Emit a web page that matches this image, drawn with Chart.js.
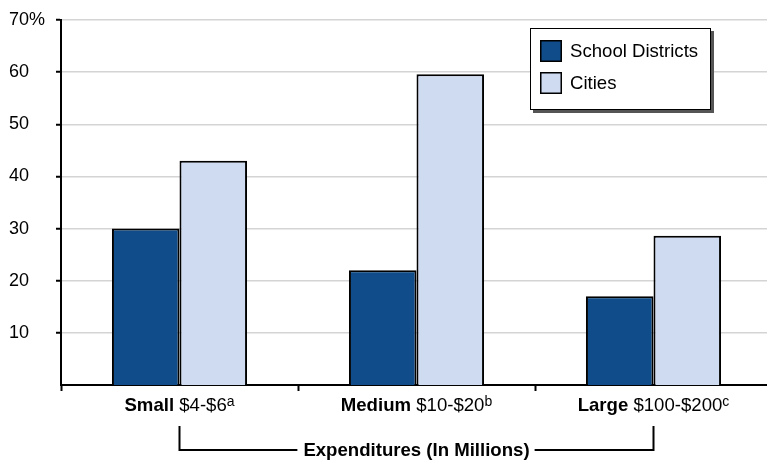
<!DOCTYPE html>
<html><head><meta charset="utf-8">
<script src="https://cdn.jsdelivr.net/npm/chart.js@4/dist/chart.umd.min.js"></script>
<style>
html,body{margin:0;padding:0;overflow:hidden;background:#fff;width:767px;height:461px}
#wrap{width:772px;height:461px;position:relative}
canvas{display:block}
</style></head>
<body><div id="wrap"><canvas id="c" width="772" height="461"></canvas></div>
<script>
const categories = ['Small', 'Medium', 'Large'];
const ranges = ['$4-$6', '$10-$20', '$100-$200'];
const notes = ['a', 'b', 'c'];
const seriesNames = ['School Districts', 'Cities'];
const schoolDistricts = [30, 22, 17];
const cities = [43, 59.6, 28.6];
const yTickValues = [10, 20, 30, 40, 50, 60, 70];
const axisTitle = 'Expenditures (In Millions)';

const FONT = '"Liberation Sans", Arial, Helvetica, sans-serif';
const colors = ['#0f4c89', '#cfdbf1'];

const xLabelsPlugin = {
  id: 'xLabels',
  afterDraw(chart) {
    const ctx = chart.ctx;
    const xs = chart.scales.x;
    ctx.save();
    ctx.fillStyle = '#000';
    ctx.textBaseline = 'alphabetic';
    ctx.textAlign = 'left';
    const base = 411;
    const centers = [];
    categories.forEach((cat, i) => {
      const cx = xs.getPixelForValue(i);
      centers.push(cx);
      ctx.font = 'bold 18.6px ' + FONT;
      const w1 = ctx.measureText(cat + ' ').width;
      ctx.font = '18.6px ' + FONT;
      const w2 = ctx.measureText(ranges[i]).width;
      ctx.font = '14px ' + FONT;
      const w3 = ctx.measureText(notes[i]).width;
      let x = cx - (w1 + w2 + w3) / 2;
      ctx.font = 'bold 18.6px ' + FONT;
      ctx.fillText(cat + ' ', x, base); x += w1;
      ctx.font = '18.6px ' + FONT;
      ctx.fillText(ranges[i], x, base); x += w2;
      ctx.font = '14px ' + FONT;
      ctx.fillText(notes[i], x, base - 5);
    });
    const left = centers[0], right = centers[centers.length - 1];
    const mid = (left + right) / 2;
    ctx.font = 'bold 18.6px ' + FONT;
    const tw = ctx.measureText(axisTitle).width;
    ctx.textAlign = 'center';
    ctx.fillText(axisTitle, mid, 456);
    ctx.strokeStyle = '#000';
    ctx.lineWidth = 2;
    ctx.beginPath();
    ctx.moveTo(left, 426); ctx.lineTo(left, 450); ctx.lineTo(mid - tw / 2 - 6, 450);
    ctx.moveTo(mid + tw / 2 + 5, 450); ctx.lineTo(right, 450); ctx.lineTo(right, 426);
    ctx.stroke();
    ctx.restore();
  }
};

const legendPlugin = {
  id: 'boxLegend',
  afterDraw(chart) {
    const ctx = chart.ctx;
    const bx = 530, by = 28, bw = 181, bh = 82;
    ctx.save();
    ctx.fillStyle = '#555';
    ctx.fillRect(bx + 3, by + 3, bw, bh);
    ctx.fillStyle = '#fff';
    ctx.fillRect(bx, by, bw, bh);
    ctx.strokeStyle = '#000';
    ctx.lineWidth = 1;
    ctx.strokeRect(bx + 0.5, by + 0.5, bw - 1, bh - 1);
    chart.data.datasets.forEach((ds, i) => {
      const sy = 40 + i * 32;
      ctx.fillStyle = ds.backgroundColor;
      ctx.fillRect(540, sy, 22, 22);
      ctx.lineWidth = 1.5;
      ctx.strokeStyle = '#000';
      ctx.strokeRect(540.75, sy + 0.75, 20.5, 20.5);
      ctx.fillStyle = '#000';
      ctx.font = '18.6px ' + FONT;
      ctx.textBaseline = 'middle';
      ctx.textAlign = 'left';
      ctx.fillText(ds.label, 570, sy + 12);
    });
    ctx.restore();
  }
};

new Chart(document.getElementById('c'), {
  type: 'bar',
  data: {
    labels: categories,
    datasets: [
      { label: seriesNames[0], data: schoolDistricts, backgroundColor: colors[0], borderColor: '#000', borderWidth: 2 },
      { label: seriesNames[1], data: cities, backgroundColor: colors[1], borderColor: '#000', borderWidth: 2 }
    ]
  },
  options: {
    responsive: false,
    animation: false,
    devicePixelRatio: 1,
    layout: { padding: { left: 9, top: 20, right: 0, bottom: 0 } },
    datasets: { bar: { categoryPercentage: 0.57, barPercentage: 1 } },
    plugins: { legend: { display: false }, tooltip: { enabled: false } },
    scales: {
      x: {
        ticks: { display: false },
        grid: { display: true, drawOnChartArea: false, offset: true, tickLength: 6, tickColor: '#000', tickWidth: 2 },
        border: { color: '#000', width: 2 },
        afterFit: s => { s.height = 76; }
      },
      y: {
        min: 0, max: 70,
        afterBuildTicks: s => { s.ticks = yTickValues.map(v => ({ value: v })); },
        ticks: {
          crossAlign: 'far',
          color: '#000',
          font: { family: FONT, size: 18 },
          callback: v => (v === yTickValues[yTickValues.length - 1] ? v + '%' : String(v))
        },
        grid: { color: '#d4d4d4', lineWidth: 1.5, tickColor: '#000', tickWidth: 2, tickLength: 5 },
        border: { color: '#000', width: 2 },
        afterFit: s => { s.width = 52; }
      }
    }
  },
  plugins: [xLabelsPlugin, legendPlugin]
});
</script>
</body></html>
